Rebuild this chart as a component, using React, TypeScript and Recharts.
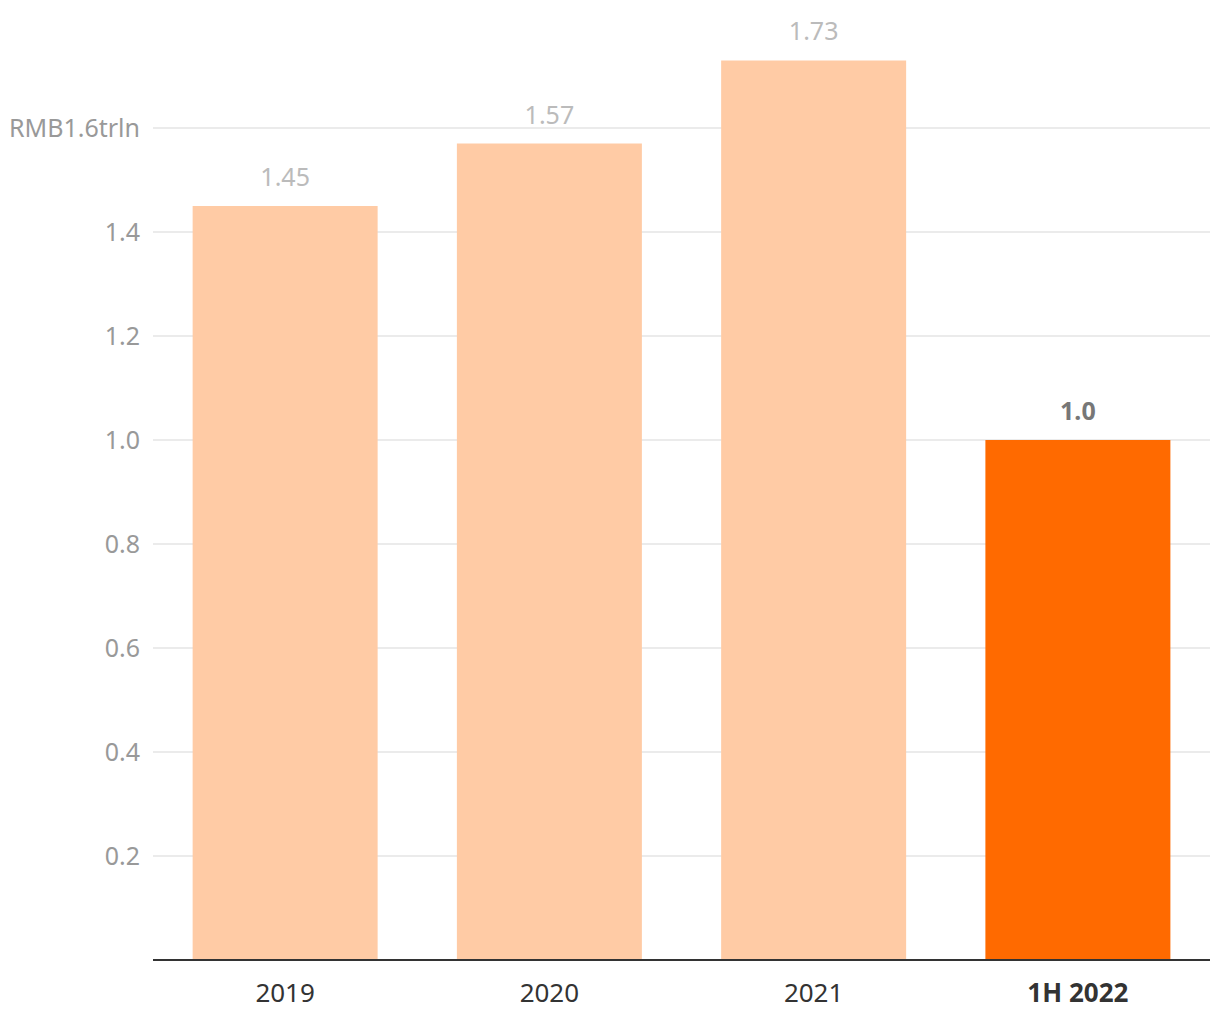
import {Bar, BarChart, CartesianGrid, Cell, LabelList, XAxis, YAxis} from 'recharts'

const categories = ['2019', '2020', '2021', '1H 2022']
const values = [1.45, 1.57, 1.73, 1.0]
const valueLabels = ['1.45', '1.57', '1.73', '1.0']
const highlighted = [false, false, false, true]
const yTicks = [0.2, 0.4, 0.6, 0.8, 1.0, 1.2, 1.4, 1.6]
const yMax = 1.8

const data = categories.map((name, i) => ({name, value: values[i], label: valueLabels[i], hi: highlighted[i]}))

const FONT = '"Noto Sans", sans-serif'

function XTick(props: any) {
	const {x, y, payload, index} = props
	const hi = highlighted[index]
	return (
		<text
			x={x}
			y={y + 34}
			textAnchor='middle'
			fontFamily={FONT}
			fontSize={26}
			fontWeight={hi ? 700 : 400}
			fill='#333333'
		>
			{payload.value}
		</text>
	)
}

function ValueLabel(props: any) {
	const {x, y, width, index} = props
	const hi = highlighted[index]
	return (
		<text
			x={x + width / 2}
			y={y - 20}
			textAnchor='middle'
			fontFamily={FONT}
			fontSize={25}
			fontWeight={hi ? 700 : 400}
			fill={hi ? '#777777' : '#bbbbbb'}
		>
			{valueLabels[index]}
		</text>
	)
}

export default function App() {
	return (
		<div style={{position: 'absolute', left: 0, top: 0, width: 1220, height: 1020, background: '#fff'}}>
			<BarChart
				width={1220}
				height={1020}
				data={data}
				margin={{top: 24, right: 10, left: 0, bottom: 0}}
				barCategoryGap='15%'
			>
				<CartesianGrid
					vertical={false}
					stroke='#e5e5e5'
					strokeWidth={1.5}
					horizontalCoordinatesGenerator={({offset}: any) =>
						yTicks.map((t) => offset.top + offset.height * (1 - t / yMax))
					}
				/>
				<XAxis
					dataKey='name'
					height={60}
					tickLine={false}
					axisLine={{stroke: '#333333', strokeWidth: 2}}
					tick={<XTick />}
					interval={0}
				/>
				<YAxis
					width={153}
					domain={[0, yMax]}
					ticks={yTicks}
					axisLine={false}
					tickLine={false}
					tickMargin={7}
					tick={{fontSize: 25, fill: '#999999', fontFamily: FONT}}
					tickFormatter={(v: number) => (v === 1.6 ? 'RMB1.6trln' : v.toFixed(1))}
				/>
				<Bar dataKey='value' isAnimationActive={false}>
					{data.map((d) => (
						<Cell key={d.name} fill={d.hi ? '#ff6a00' : '#ffcba5'} />
					))}
					<LabelList dataKey='label' content={<ValueLabel />} />
				</Bar>
			</BarChart>
		</div>
	)
}
